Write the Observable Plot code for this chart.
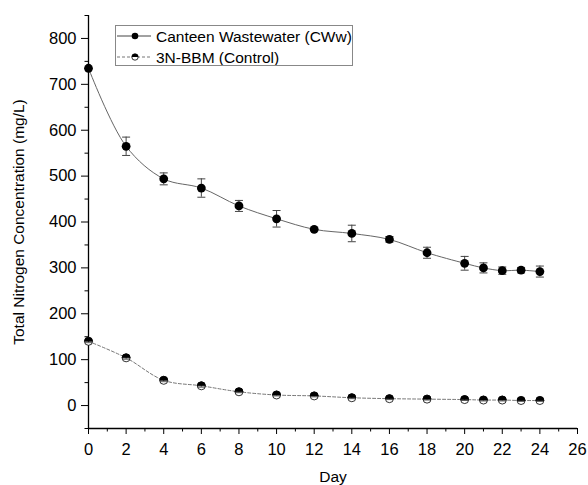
<!DOCTYPE html>
<html><head><meta charset="utf-8">
<script src="https://cdn.jsdelivr.net/npm/d3@7"></script>
<script src="https://cdn.jsdelivr.net/npm/@observablehq/plot@0.6"></script>
<style>
body{margin:0;background:#fff;font-family:"Liberation Sans",Arial,sans-serif;}
#wrap{position:relative;width:588px;height:485px;}
#legend{position:absolute;left:115px;top:25px;width:238px;height:41px;border:1px solid #888;background:#fff;box-sizing:border-box;}
</style></head>
<body><div id="wrap"><div id="chart"></div>
<svg id="legend" width="238" height="41"></svg></div>
<script>
const days = [0,2,4,6,8,10,12,14,16,18,20,21,22,23,24];
const cwwValues = [735,565,494,474,435,407,384,375,362,333,310,300,294,295,292];
const cwwErrors = [0,20,13,20,12,18,3,18,6,12,15,11,8,6,12];
const controlValues = [140,104,55,43,30,23,21,17,15,14,13,12,12,11,11];
const controlErrors = [3,3,3,3,2,2,2,2,2,2,2,2,2,2,2];
const xTicks = [0,2,4,6,8,10,12,14,16,18,20,22,24,26];
const yTicks = [0,100,200,300,400,500,600,700,800];
const seriesNames = ["Canteen Wastewater (CWw)","3N-BBM (Control)"];

const cww = days.map((d,i)=>({day:d, v:cwwValues[i], e:cwwErrors[i]}));
const ctl = days.map((d,i)=>({day:d, v:controlValues[i], e:controlErrors[i]}));

const hline = {draw(ctx,size){const r=4; ctx.moveTo(-r,0); ctx.lineTo(r,0);}};
const topHalf = {draw(ctx,size){const r=Math.sqrt(size/Math.PI); ctx.moveTo(r,0); ctx.arc(0,0,r,0,Math.PI,true); ctx.closePath();}};

const font = '"Liberation Sans", Arial, sans-serif';
const chart = Plot.plot({
  width:588, height:485,
  marginLeft:88, marginRight:11, marginTop:15, marginBottom:57,
  style:{fontFamily:font, background:"#fff", color:"#000"},
  x:{domain:[0,26]},
  y:{domain:[-50,850]},
  marks:[
    Plot.ruleX([0],{stroke:"#000",strokeWidth:1.3}),
    Plot.ruleY([-50],{stroke:"#000",strokeWidth:1.3}),
    Plot.axisX({ticks:xTicks, tickSize:6, tickPadding:9, fontSize:16.5, label:null, tickFormat:d=>d}),
    Plot.axisX({ticks:d3.range(1,26,2), tickSize:3.5, text:null, label:null}),
    Plot.axisY({ticks:yTicks, tickSize:7, tickPadding:5, fontSize:16.5, label:null, tickFormat:d=>d}),
    Plot.axisY({ticks:d3.range(-50,851,100), tickSize:3.5, text:null, label:null}),
    Plot.text(["Day"],{frameAnchor:"bottom", dy:53, fontSize:15.5}),
    Plot.text(["Total Nitrogen Concentration (mg/L)"],{frameAnchor:"left", textAnchor:"middle", dx:-69, rotate:-90, fontSize:15.5}),
    // control series
    Plot.line(ctl,{x:"day",y:"v",curve:"catmull-rom",stroke:"#777",strokeWidth:1,strokeDasharray:"3,2"}),
    Plot.dot(ctl,{x:"day",y:"v",r:4,fill:"#fff",stroke:"#000",strokeWidth:0.8}),
    Plot.ruleX(ctl,{x:"day",y1:d=>d.v-d.e,y2:d=>d.v+d.e,stroke:"#333",strokeWidth:0.8}),
    Plot.dot(ctl,{x:"day",y:d=>d.v-d.e,symbol:hline,stroke:"#333",strokeWidth:0.8}),
    Plot.dot(ctl,{x:"day",y:"v",symbol:topHalf,r:4,fill:"#000",stroke:"#000",strokeWidth:0.8}),
    // cww series
    Plot.line(cww,{x:"day",y:"v",curve:"catmull-rom",stroke:"#666",strokeWidth:1}),
    Plot.ruleX(cww.filter(d=>d.e>0),{x:"day",y1:d=>d.v-d.e,y2:d=>d.v+d.e,stroke:"#444",strokeWidth:1}),
    Plot.dot(cww.filter(d=>d.e>0),{x:"day",y:d=>d.v-d.e,symbol:hline,stroke:"#444",strokeWidth:1}),
    Plot.dot(cww.filter(d=>d.e>0),{x:"day",y:d=>d.v+d.e,symbol:hline,stroke:"#444",strokeWidth:1}),
    Plot.dot(cww,{x:"day",y:"v",r:4.4,fill:"#000"})
  ]
});
document.getElementById("chart").appendChild(chart);

// legend
const lg = d3.select("#legend");
const rows = [{y:10, dash:null, half:false},{y:31, dash:"3,2", half:true}];
rows.forEach((r,i)=>{
  lg.append("line").attr("x1",1).attr("x2",35).attr("y1",r.y).attr("y2",r.y)
    .attr("stroke",i?"#777":"#444").attr("stroke-width",1).attr("stroke-dasharray",r.dash);
  if(!r.half){
    lg.append("circle").attr("cx",19).attr("cy",r.y).attr("r",3.3).attr("fill","#000");
  } else {
    lg.append("circle").attr("cx",19).attr("cy",r.y).attr("r",3.2).attr("fill","#fff").attr("stroke","#000").attr("stroke-width",0.8);
    lg.append("path").attr("d",`M${19+3.2},${r.y} A3.2,3.2 0 0 0 ${19-3.2},${r.y} Z`).attr("fill","#000");
  }
  lg.append("text").attr("x",40).attr("y",r.y+5.5).attr("font-size",15.5).attr("font-family",font).text(seriesNames[i]);
});
</script></body></html>
